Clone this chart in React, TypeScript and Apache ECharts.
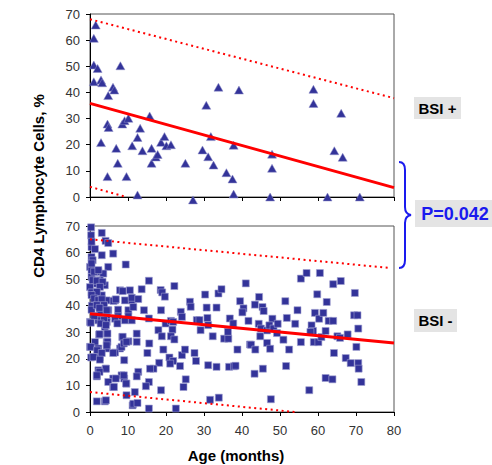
import React, { useEffect, useRef } from "react";
import * as echarts from "echarts";

// BSI + (triangles): [age in months, CD4 %]
const bsiPosPoints: number[][] = [
  [1.5, 65.8], [1.0, 60.7], [1.0, 50.5], [2.0, 49.2], [1.0, 44.1], [2.9, 44.8], [3.2, 43.7],
  [8.0, 50.2], [6.05, 42], [6.4, 40.9], [4.8, 38.8], [2.9, 20.8], [4.6, 27.9], [4.9, 26.6],
  [8.5, 27.9], [9.1, 29.2], [10.1, 30.1], [15.7, 31], [13.2, 26.3], [12.5, 22.8], [11.1, 19.6],
  [13.8, 17.7], [6.9, 18.6], [7.3, 12.9], [4.6, 7.8], [9.6, 7.8], [16.2, 18.6], [16.2, 12.9],
  [17.3, 15.3], [17.8, 16.3], [18.7, 20.9], [19.6, 23.1], [20.1, 19.6], [21.3, 20], [12.5, 0.8],
  [25.1, 12.9], [27.1, -1.1], [29.6, 18], [30.6, 35.1], [31.1, 15.4], [31.8, 23.1], [32.5, 12.2],
  [33.8, 42], [35.9, 9.3], [37.5, 6.9], [37.8, 1.1], [37.8, 19.8], [39.2, 40.9], [58.8, 41.2],
  [58.8, 35.8], [66.1, 32], [47.9, 16.4], [47.9, 11], [47.4, 0], [64.3, 17.7], [66.5, 15.2],
  [62.5, 0], [71, 0],
];

// BSI - (squares): [age in months, CD4 %]
const bsiNegPoints: number[][] = [
  [0.3, 69.5], [0.3, 66.5], [3.1, 67.4], [4.1, 64.4], [4.8, 63.6], [0.4, 62.1], [1.3, 61.3],
  [3.1, 59], [6.1, 59.6], [0.4, 58.3], [0.7, 57.1], [0, 54.6], [4.8, 54.6], [9.4, 55.5],
  [0.4, 53.3], [2.2, 52.7], [3.5, 52.1], [0.4, 50.8], [2.6, 49.6], [1.8, 48.3], [3.9, 47.7],
  [0, 47], [7.9, 45.8], [10.5, 45.8], [0.4, 45], [1.3, 44], [3.1, 43.9], [4.4, 42], [6.6, 42],
  [9.2, 42], [11, 42], [0.5, 40], [2.6, 41], [4.8, 38.3], [7.4, 38.5], [10.1, 38.3], [11.4, 39.5],
  [0.4, 38.5], [2.6, 37], [4.4, 36], [7.4, 36], [10.1, 36], [0, 33.9], [2.2, 34.5], [4.4, 33.9],
  [6.6, 35.1], [9.2, 34.5], [11, 34.5], [3.9, 32], [2.4, 29.1], [4.4, 29.5], [8.5, 28.2],
  [10.1, 26.6], [1.3, 26.3], [4.4, 26.3], [0, 24.5], [2.2, 23.9], [4.4, 23.9], [7.9, 23.9],
  [6.6, 22.4], [0.3, 20.5], [2.6, 20.5], [9, 19.5], [2.2, 15.7], [4.1, 16.3], [1.8, 13.4],
  [6.1, 12.6], [8.3, 13.8], [9, 12.6], [4.8, 11.3], [9.6, 10.7], [6.1, 9.4], [9.6, 6.3],
  [1.8, 4], [3.9, 4], [11.2, 2.5], [0.4, 64.1], [1.1, 52.8], [2.2, 53.4], [0.4, 55.9],
  [0.7, 49.6], [1.8, 49.4], [3.3, 49], [2.6, 47.1], [1.8, 45.2], [0.4, 44], [1.1, 42.7],
  [2.2, 42.1], [3.1, 42.4], [1.8, 40.2], [3.7, 40.2], [2.5, 39.2], [4.4, 38.3], [1.1, 36.1],
  [3.7, 34.6], [0.2, 33.6], [2.8, 33.3], [4.2, 32.7], [2.5, 29.3], [4.6, 29.5], [4.6, 26.4],
  [4.4, 25.1], [0.2, 24.5], [1.9, 23.2], [3.1, 22.2], [0.9, 20.7], [2.6, 19.7], [4.2, 16.3],
  [2.5, 15.1], [1.8, 13.8], [6.2, 41.8], [6.8, 42.4], [7.2, 33.3], [6.1, 22.2], [6.8, 12.6],
  [6.3, 9.4], [8.6, 45.5], [8.3, 24.5], [8.6, 28.3], [8.9, 25.8], [9.6, 26.4], [8.9, 13.8],
  [9.5, 10.7], [4.2, 4.4],
  [11, 43], [12.7, 42.5], [13.6, 46.2], [14.2, 38.3], [15.5, 49.4], [18.6, 45.9], [19, 45],
  [19.7, 43.4], [22.2, 47.4], [18.7, 38.3], [15.5, 35.2], [19.9, 33.3], [21.3, 34.3],
  [21.9, 33.9], [23.9, 37.7], [24.2, 35.8], [26.3, 41.5], [26.5, 39.6], [18, 30.8], [18.9, 28.5],
  [21.7, 31], [21.3, 28.5], [22.2, 27.3], [12.3, 29.5], [12.3, 26.4], [15.6, 25.8], [15.1, 22.2],
  [19.3, 23.5], [20.9, 20.5], [21.9, 19.2], [21.1, 18.2], [18.2, 18.5], [24.2, 21.4], [25, 23.5],
  [27.5, 22.2], [27.9, 19.2], [23.7, 17.3], [16.7, 16.3], [15.8, 16.3], [12.7, 15.1], [12.3, 13.4],
  [15.5, 11.3], [14.7, 9.7], [25.2, 12.3], [24.6, 9.4], [18.7, 8.2], [11.8, 7.5], [11.4, 3.1],
  [12.5, 3.4], [15.5, 1.3], [22.6, 1.3], [31.6, 4.6], [33.9, 5.4], [30.3, 44.2], [30.7, 39.3],
  [30.9, 35.4], [28.1, 34.6], [28.8, 34.6], [29.1, 30.8], [31.1, 32.7], [32.3, 28.5], [33.3, 39.3],
  [33.8, 44.6], [34.6, 46.2], [35.3, 27.6], [36.4, 27.6], [36.8, 35.2], [37.7, 33.3], [36.3, 30.2],
  [31.1, 17.6], [33.3, 17], [36.6, 17], [37.9, 17.2], [38.8, 23.5], [39.5, 41.7], [40.4, 39],
  [40.1, 37.5], [41, 48.4], [41.7, 34.3], [42.1, 25.4],
  [38.3, 17.4], [42.4, 25.3], [43.5, 23.5], [43.4, 40.4], [44.5, 43.3], [45.4, 39.5], [45.7, 38],
  [44.4, 33.2], [45, 31.4], [44.8, 28.5], [46.6, 30.7], [46.6, 26], [47.4, 23.8], [48, 35.1],
  [47.2, 32.6], [48.3, 31.4], [49.2, 29.7], [49.4, 33.2], [51.4, 41.7], [51.8, 35.4], [50.9, 27.2],
  [52.4, 23.5], [54, 33.2], [54.6, 38.3], [55.5, 26.3], [55.5, 50.2], [57, 52.3], [60.5, 52.3],
  [59.8, 44.3], [59.2, 37.3], [60.3, 35.1], [61.4, 37.3], [62.3, 41.4], [58.3, 32.6], [58.7, 30.5],
  [58, 30.1], [58.9, 26.3], [60.1, 26.3], [60.9, 28.2], [62, 30.5], [62.8, 34.3], [64, 34.3],
  [64, 48.1], [66, 49.3], [65.1, 28.5], [65.8, 27.9], [67.8, 29.2], [64.2, 22.2], [67.3, 20.3],
  [68.6, 18.4], [69.7, 44.8], [69.5, 36.4], [70.4, 36.4], [70.6, 31.4], [70.1, 24.5], [70.6, 18.4],
  [70.7, 16.3], [71.4, 11.3], [62, 12.8], [63.8, 12.3], [57.7, 8.2], [51.6, 17.3], [45.5, 16.3],
  [43.3, 14.4], [47.6, 4.8],
];

// Regression line and prediction band endpoints
const posFit: number[][] = [[0, 35.8], [80, 3.6]];
const posUpper: number[][] = [[0, 68], [80, 37.8]];
const posLower: number[][] = [[0, 3.9], [9.5, 0]];
const negFit: number[][] = [[0, 37], [80, 26]];
const negUpper: number[][] = [[0, 65], [79, 54.2]];
const negLower: number[][] = [[0, 7.5], [54, 0]];

const xTicks = { min: 0, max: 80, interval: 10 };
const yTicks = { min: 0, max: 70, interval: 10 };

const FONT = "Liberation Sans, Arial, sans-serif";
const BRACE_D =
  "M399 162 Q405 162 405 170 L405 207 Q405 214 411 215 Q405 216 405 223 L405 260 Q405 268 399 268";

export default function App() {
  const ref = useRef<HTMLDivElement>(null);
  useEffect(() => {
    if (!ref.current) return;
    echarts.graphic.registerShape("brace", echarts.graphic.extendPath(BRACE_D, {}));
    const chart = echarts.init(ref.current, null, { renderer: "svg" });
    const axisX = (idx: number, showLabels: boolean) => ({
      type: "value",
      gridIndex: idx,
      min: xTicks.min,
      max: xTicks.max,
      interval: xTicks.interval,
      splitLine: { show: false },
      axisLine: { lineStyle: { color: "#000", width: 1 } },
      axisTick: { show: true, length: 4, lineStyle: { color: "#000" } },
      axisLabel: {
        show: showLabels,
        color: "#333",
        fontSize: 13,
        fontFamily: FONT,
        margin: 12,
      },
    });
    const axisY = (idx: number) => ({
      type: "value",
      gridIndex: idx,
      min: yTicks.min,
      max: yTicks.max,
      interval: yTicks.interval,
      splitLine: { show: false },
      axisLine: { show: true, lineStyle: { color: "#000", width: 1 } },
      axisTick: { show: true, length: 4, lineStyle: { color: "#000" } },
      axisLabel: { color: "#333", fontSize: 13, fontFamily: FONT, margin: 10 },
    });
    const lineSeries = (data: number[][], idx: number, dotted: boolean) => ({
      type: "line",
      xAxisIndex: idx,
      yAxisIndex: idx,
      data,
      symbol: "none",
      silent: true,
      z: 3,
      lineStyle: dotted
        ? { color: "#ff0000", width: 2, type: [2, 3.5] }
        : { color: "#ff0000", width: 3, type: "solid" },
    });
    chart.setOption({
      animation: false,
      backgroundColor: "#fff",
      grid: [
        { left: 90, top: 14, width: 304, height: 183, show: true, borderColor: "#555", borderWidth: 1 },
        { left: 90, top: 226, width: 304, height: 186, show: true, borderColor: "#555", borderWidth: 1 },
      ],
      xAxis: [axisX(0, false), axisX(1, true)],
      yAxis: [axisY(0), axisY(1)],
      series: [
        {
          type: "scatter",
          xAxisIndex: 0,
          yAxisIndex: 0,
          data: bsiPosPoints,
          symbol: "triangle",
          symbolSize: [9, 8],
          clip: false,
          z: 2,
          itemStyle: { color: "#333399", borderColor: "#8f8fc8", borderWidth: 0.5, opacity: 1 },
        },
        {
          type: "scatter",
          xAxisIndex: 1,
          yAxisIndex: 1,
          data: bsiNegPoints,
          symbol: "rect",
          symbolSize: 7,
          clip: false,
          z: 2,
          itemStyle: { color: "#333399", borderColor: "#a0a0d0", borderWidth: 0.6, opacity: 1 },
        },
        lineSeries(posFit, 0, false),
        lineSeries(posUpper, 0, true),
        lineSeries(posLower, 0, true),
        lineSeries(negFit, 1, false),
        lineSeries(negUpper, 1, true),
        lineSeries(negLower, 1, true),
      ],
      graphic: [
        {
          type: "text",
          x: 38,
          y: 186,
          rotation: Math.PI / 2,
          style: {
            text: "CD4 Lymphocyte Cells, %",
            fontSize: 15,
            fontWeight: "bold",
            fontFamily: FONT,
            fill: "#000",
            align: "center",
            verticalAlign: "middle",
          },
        },
        {
          type: "text",
          x: 236,
          y: 455,
          style: {
            text: "Age (months)",
            fontSize: 15,
            fontWeight: "bold",
            fontFamily: FONT,
            fill: "#000",
            align: "center",
            verticalAlign: "middle",
          },
        },
        { type: "rect", shape: { x: 414, y: 97, width: 47, height: 22 }, style: { fill: "#e4e4e4" } },
        {
          type: "text",
          x: 437.5,
          y: 108,
          style: {
            text: "BSI +",
            fontSize: 15,
            fontWeight: "bold",
            fontFamily: FONT,
            fill: "#000",
            align: "center",
            verticalAlign: "middle",
          },
        },
        { type: "rect", shape: { x: 414, y: 309, width: 43, height: 23 }, style: { fill: "#e4e4e4" } },
        {
          type: "text",
          x: 435.5,
          y: 320.5,
          style: {
            text: "BSI -",
            fontSize: 15,
            fontWeight: "bold",
            fontFamily: FONT,
            fill: "#000",
            align: "center",
            verticalAlign: "middle",
          },
        },
        { type: "rect", shape: { x: 415, y: 200, width: 77, height: 27 }, style: { fill: "#e4e4e4" } },
        {
          type: "text",
          x: 455,
          y: 214,
          style: {
            text: "P=0.042",
            fontSize: 18,
            fontWeight: "bold",
            fontFamily: FONT,
            fill: "#1a1aee",
            align: "center",
            verticalAlign: "middle",
          },
        },
        {
          type: "brace",
          x: 0,
          y: 0,
          scaleX: 1,
          scaleY: 1,
          style: { stroke: "#1a1aee", fill: "none", lineWidth: 2 },
        },
      ],
    });
    return () => chart.dispose();
  }, []);
  return (
    <div
      ref={ref}
      style={{ position: "absolute", left: 0, top: 0, width: 492, height: 465, background: "#fff" }}
    />
  );
}
